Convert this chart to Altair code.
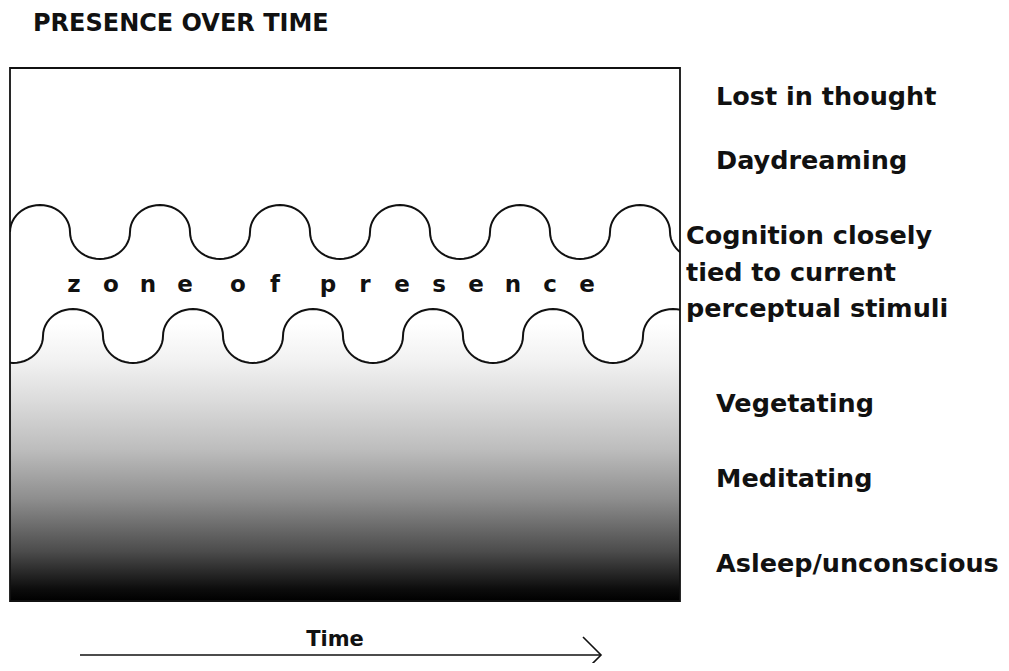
import math
import altair as alt
import pandas as pd

# ---- data (chart units: x = time 0..670, y = presence level 0..533) ----
# crest (peak) and trough centres of the two wavy boundaries of the zone
upper_peaks = [30, 150, 270, 390, 510, 630]
upper_troughs = [90, 210, 330, 450, 570, 690]
upper_level, upper_amp = 369, 27
lower_peaks = [63, 183, 303, 423, 543, 663]
lower_troughs = [-57, 3, 123, 243, 363, 483, 603]
lower_level, lower_amp = 265, 27
arc_halfwidth = 30

state_labels = ["Lost in thought", "Daydreaming", "Vegetating", "Meditating", "Asleep/unconscious"]
state_levels = [496, 432, 189, 114, 29]
zone_label_lines = ["Cognition closely", "tied to current", "perceptual stimuli"]
zone_label_levels = [357, 320, 284]
zone_word = "zone of presence"
title_text = "PRESENCE OVER TIME"
time_text = "Time"

X_MAX, Y_MAX = 670, 533

xs = alt.Scale(domain=[0, X_MAX], nice=False, zero=False)
ys = alt.Scale(domain=[0, Y_MAX], nice=False, zero=False)


def X(f="x"):
    return alt.X(f"{f}:Q", scale=xs, axis=None)


def Y(f="y"):
    return alt.Y(f"{f}:Q", scale=ys, axis=None)


def wave(peaks, troughs, level, amp, r=arc_halfwidth, steps=24):
    pts = []
    for cx, s in [(p, 1) for p in peaks] + [(t, -1) for t in troughs]:
        for k in range(steps + 1):
            th = math.pi * (1 - k / steps)
            pts.append((cx + r * math.cos(th), level + s * amp * math.sin(th)))
    pts.sort()
    return pd.DataFrame(pts, columns=["x", "y"])


FONT = "DejaVu Sans"
INK = "#111111"
LABEL_SIZE = 25.5

upper = wave(upper_peaks, upper_troughs, upper_level, upper_amp)
lower = wave(lower_peaks, lower_troughs, lower_level, lower_amp)
lower["base"] = 0

grad = alt.Gradient(
    gradient="linear", x1=0, x2=0, y1=0, y2=1,
    stops=[
        alt.GradientStop(offset=0.0, color="#ffffff"),
        alt.GradientStop(offset=0.05, color="#ffffff"),
        alt.GradientStop(offset=0.18, color="#f1f1f1"),
        alt.GradientStop(offset=0.31, color="#dcdcdc"),
        alt.GradientStop(offset=0.48, color="#bdbdbd"),
        alt.GradientStop(offset=0.65, color="#8e8e8e"),
        alt.GradientStop(offset=0.83, color="#4c4c4c"),
        alt.GradientStop(offset=0.96, color="#0c0c0c"),
        alt.GradientStop(offset=1.0, color="#000000"),
    ],
)

area = alt.Chart(lower).mark_area(color=grad, clip=True).encode(
    x=X(), y=Y(), y2=alt.Y2("base:Q")
)
upper_line = alt.Chart(upper).mark_line(color=INK, strokeWidth=2, clip=True).encode(
    x=X(), y=Y()
)
lower_line = alt.Chart(lower).mark_line(color=INK, strokeWidth=2, clip=True).encode(
    x=X(), y=Y()
)

box = alt.Chart(pd.DataFrame({"x": [0], "x2": [X_MAX], "y": [0], "y2": [Y_MAX]})).mark_rect(
    fill="transparent", stroke=INK, strokeWidth=1.8
).encode(x=X(), x2="x2:Q", y=Y(), y2="y2:Q")

# zone of presence letters, spread out
letters, lx = [], []
pos = 64
for ch in zone_word:
    if ch == " ":
        pos += 16
        continue
    letters.append(ch)
    lx.append(pos)
    pos += 37
zone_df = pd.DataFrame({"t": letters, "x": lx, "y": [309] * len(letters)})
zone_text = alt.Chart(zone_df).mark_text(
    font=FONT, fontWeight="bold", fontSize=23, color=INK, baseline="alphabetic", align="center"
).encode(x=X(), y=Y(), text="t:N")

states = pd.DataFrame({"t": state_labels, "y": state_levels, "x": [706] * len(state_labels)})
state_text = alt.Chart(states).mark_text(
    font=FONT, fontWeight="bold", fontSize=LABEL_SIZE, color=INK, baseline="alphabetic", align="left"
).encode(x=X(), y=Y(), text="t:N")

zl = pd.DataFrame({"t": zone_label_lines, "y": zone_label_levels, "x": [676] * 3})
zl_text = alt.Chart(zl).mark_text(
    font=FONT, fontWeight="bold", fontSize=LABEL_SIZE, color=INK, baseline="alphabetic", align="left"
).encode(x=X(), y=Y(), text="t:N")

title = alt.Chart(pd.DataFrame({"t": [title_text], "x": [23], "y": [570]})).mark_text(
    font=FONT, fontWeight="bold", fontSize=24, color=INK, baseline="alphabetic", align="left"
).encode(x=X(), y=Y(), text="t:N")

time_lbl = alt.Chart(pd.DataFrame({"t": [time_text], "x": [325], "y": [-45]})).mark_text(
    font=FONT, fontWeight="bold", fontSize=21, color=INK, baseline="alphabetic", align="center"
).encode(x=X(), y=Y(), text="t:N")

arrow_shaft = alt.Chart(pd.DataFrame({"x": [70, 591], "y": [-54, -54]})).mark_line(
    color=INK, strokeWidth=1.6
).encode(x=X(), y=Y())
arrow_head = alt.Chart(pd.DataFrame({"x": [573, 591, 573], "y": [-36, -54, -72], "o": [0, 1, 2]})).mark_line(
    color=INK, strokeWidth=1.6
).encode(x=X(), y=Y(), order="o:Q")

chart = alt.layer(
    area, upper_line, lower_line, box, zone_text, state_text, zl_text, title, time_lbl,
    arrow_shaft, arrow_head
).properties(
    width=X_MAX, height=Y_MAX,
    autosize=alt.AutoSizeParams(type="none"),
    padding={"left": 2, "top": 60, "right": 320, "bottom": 62},
).configure_view(stroke=None)

chart.save("out.html", embed_options={"renderer": "svg", "actions": False})
